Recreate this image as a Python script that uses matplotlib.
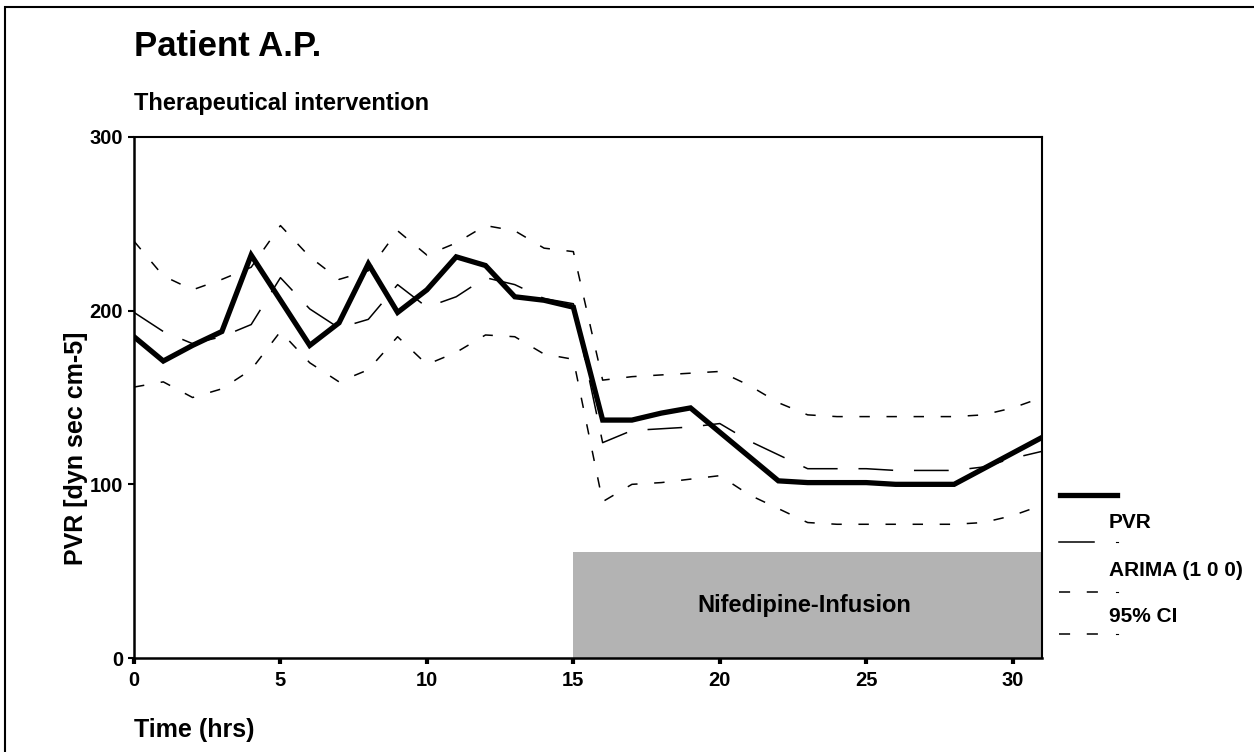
import matplotlib
matplotlib.use("Agg")
import matplotlib.pyplot as plt
from matplotlib.patches import Rectangle
from matplotlib.lines import Line2D

plt.rcParams['font.family'] = ['Liberation Sans', 'DejaVu Sans']
plt.rcParams['font.weight'] = 'bold'
plt.rcParams['lines.scale_dashes'] = False

# data
hours = list(range(32))
pvr = [185, 171, 180, 188, 232, 206, 180, 193, 227, 199, 212, 231, 226, 208, 206, 202,
       137, 137, 141, 144, 130, 116, 102, 101, 101, 101, 100, 100, 100, 109, 118, 127]
arima = [199, 188, 181, 185, 192, 219, 201, 190, 195, 215, 202, 208, 219, 215, 207, 204,
         124, 131, 132, 133, 135, 125, 117, 109, 109, 109, 108, 108, 108, 110, 115, 119]
ci_upper = [240, 220, 212, 218, 225, 249, 231, 218, 223, 246, 232, 239, 249, 246, 236, 234,
            160, 162, 163, 164, 165, 157, 147, 140, 139, 139, 139, 139, 139, 140, 144, 150]
ci_lower = [156, 159, 150, 155, 166, 188, 170, 159, 166, 185, 169, 176, 186, 185, 175, 172,
            90, 100, 101, 103, 105, 94, 86, 78, 77, 77, 77, 77, 77, 78, 82, 88]

infusion_start, infusion_end, infusion_top = 15, 31, 61
x_ticks = [0, 5, 10, 15, 20, 25, 30]
y_ticks = [0, 100, 200, 300]

W, H = 1254, 752


def fx(px):
    return px / W


def fy(py):
    return 1 - py / H


fig = plt.figure(figsize=(W / 100, H / 100), dpi=100)
ax = fig.add_axes([fx(134), fy(658), fx(1042 - 134), (658 - 137) / H])

ax.add_patch(Rectangle((infusion_start, 0), infusion_end - infusion_start, infusion_top,
                       facecolor='#b3b3b3', edgecolor='none', zorder=1))
ax.text((infusion_start + infusion_end) / 2 - 0.1, infusion_top / 2, 'Nifedipine-Infusion',
        ha='center', va='center', fontsize=17, fontweight='bold', zorder=2)

ax.plot(hours, ci_upper, color='black', lw=1.1, dashes=(7.5, 12), zorder=3)
ax.plot(hours, ci_lower, color='black', lw=1.1, dashes=(7.5, 12), zorder=3)
ax.plot(hours, arima, color='black', lw=1.1, dashes=(25, 15), zorder=3)
ax.plot(hours, pvr, color='black', lw=3.8, solid_joinstyle='miter', zorder=4)

ax.set_xlim(0, 31)
ax.set_ylim(0, 300)
ax.set_xticks(x_ticks)
ax.set_yticks(y_ticks)
ax.tick_params(axis='x', direction='out', length=4, width=3, pad=5, labelsize=14.5)
ax.tick_params(axis='y', direction='out', length=4, width=1.5, pad=4, labelsize=14.5)
for lab in ax.get_xticklabels() + ax.get_yticklabels():
    lab.set_fontweight('bold')
for side in ['left', 'bottom']:
    ax.spines[side].set_linewidth(1.8)
for side in ['top', 'right']:
    ax.spines[side].set_linewidth(1.5)

# titles and axis labels
fig.text(fx(134), fy(56), 'Patient A.P.', fontsize=25, fontweight='bold', va='baseline')
fig.text(fx(134), fy(110), 'Therapeutical intervention', fontsize=17, fontweight='bold',
         va='baseline')
fig.text(fx(134), fy(737), 'Time (hrs)', fontsize=18, fontweight='bold', va='baseline')
fig.text(fx(88), fy(448), 'PVR [dyn sec cm-5]', fontsize=18, fontweight='bold',
         rotation=90, ha='right', va='center')

# legend drawn the way the original program laid it out
fig.add_artist(Line2D([fx(1060), fx(1117)], [fy(495), fy(495)], color='black', lw=3.8))
fig.text(fx(1109), fy(522), 'PVR', fontsize=15, fontweight='bold', va='center')
fig.add_artist(Line2D([fx(1059), fx(1094)], [fy(542), fy(542)], color='black', lw=1.1))
fig.text(fx(1109), fy(570), 'ARIMA (1 0 0)', fontsize=15, fontweight='bold', va='center')
fig.add_artist(Line2D([fx(1059), fx(1098)], [fy(592), fy(592)], color='black', lw=1.1,
                      dashes=(8, 12)))
fig.text(fx(1109), fy(617), '95% CI', fontsize=15, fontweight='bold', va='center')
fig.add_artist(Line2D([fx(1059), fx(1098)], [fy(634), fy(634)], color='black', lw=1.1,
                      dashes=(8, 12)))
for py in [542, 592, 634]:
    fig.add_artist(Line2D([fx(1116), fx(1118)], [fy(py), fy(py)], color='black', lw=0.8))

# frame around the picture (only its top and left edges fall inside the image)
fig.add_artist(Rectangle((fx(5), fy(770)), fx(1280 - 5), (770 - 7) / H,
                         transform=fig.transFigure, fill=False, edgecolor='black', lw=1.5))

fig.savefig('out.png', dpi=100, facecolor='white')
